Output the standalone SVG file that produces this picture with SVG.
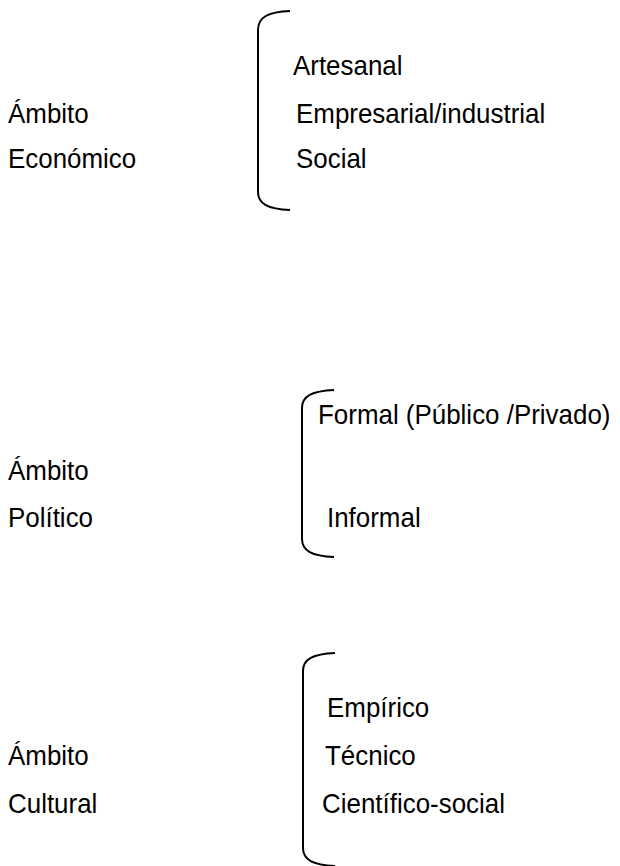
<svg xmlns="http://www.w3.org/2000/svg" width="620" height="866" viewBox="0 0 620 866">
<style>
text{font-family:"Liberation Sans",Arial,sans-serif;font-size:28.5px;fill:#000}
.br{fill:none;stroke:#000;stroke-width:2}
</style>
<rect width="620" height="866" fill="#fff"/>
<g id="economico">
<text transform="translate(8,123) scale(0.91,1)">Ámbito</text>
<text transform="translate(8,168) scale(0.91,1)">Económico</text>
<path class="br" d="M290,11 C268,12 258,17 258,30 V192 C258,204 268,209 290,210"/>
<text transform="translate(293,75) scale(0.91,1)">Artesanal</text>
<text transform="translate(296,123) scale(0.91,1)">Empresarial/industrial</text>
<text transform="translate(296,168) scale(0.91,1)">Social</text>
</g>
<g id="politico">
<text transform="translate(8,480) scale(0.91,1)">Ámbito</text>
<text transform="translate(8,527) scale(0.91,1)">Político</text>
<path class="br" d="M334,390 C312,391 302,396 302,408 V539 C302,551 312,556 334,557"/>
<text transform="translate(318,424) scale(0.91,1)">Formal (Público /Privado)</text>
<text transform="translate(327,527) scale(0.91,1)">Informal</text>
</g>
<g id="cultural">
<text transform="translate(8,765) scale(0.91,1)">Ámbito</text>
<text transform="translate(8,813) scale(0.91,1)">Cultural</text>
<path class="br" d="M335,653 C313,654 303,659 303,671 V848 C303,860 313,865 335,866"/>
<text transform="translate(327,717) scale(0.91,1)">Empírico</text>
<text transform="translate(325,765) scale(0.91,1)">Técnico</text>
<text transform="translate(322,813) scale(0.91,1)">Científico-social</text>
</g>
</svg>
